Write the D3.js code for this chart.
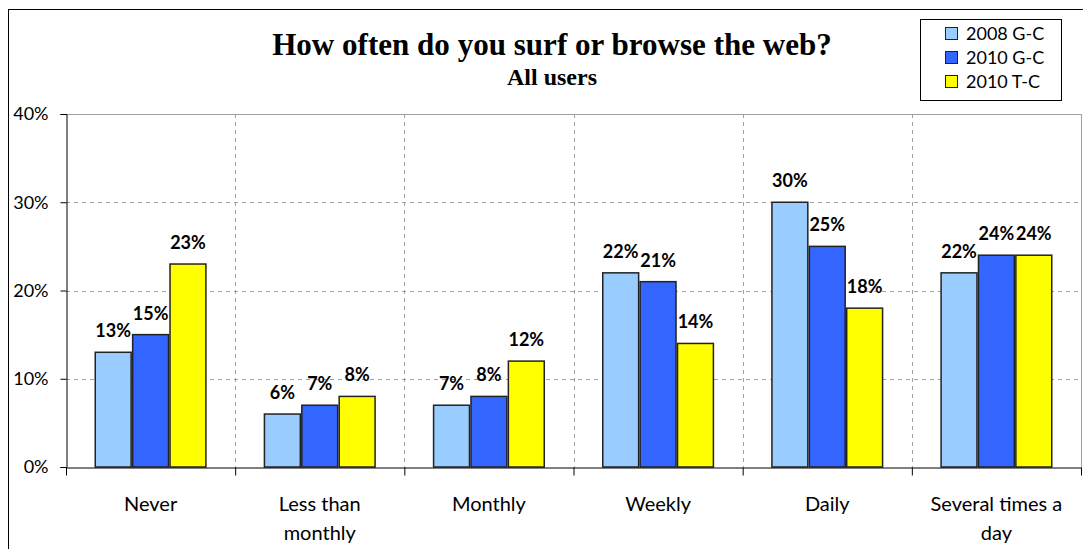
<!DOCTYPE html>
<html>
<head>
<meta charset="utf-8">
<script src="https://cdn.jsdelivr.net/npm/d3@7"></script>
<style>
  html, body { margin: 0; padding: 0; background: #fff; }
  svg { display: block; }
</style>
</head>
<body>
<svg id="chart" width="1083" height="549"></svg>
<script>
const categories = ["Never", "Less than monthly", "Monthly", "Weekly", "Daily", "Several times a day"];
const categoryLines = [["Never"], ["Less than", "monthly"], ["Monthly"], ["Weekly"], ["Daily"], ["Several times a", "day"]];
const seriesNames = ["2008 G-C", "2010 G-C", "2010 T-C"];
const series2008GC = [13, 6, 7, 22, 30, 22];
const series2010GC = [15, 7, 8, 21, 25, 24];
const series2010TC = [23, 8, 12, 14, 18, 24];
const yTicks = [0, 10, 20, 30, 40];
const colors = ["#99CCFF", "#3366FF", "#FFFF00"];
const titleText = "How often do you surf or browse the web?";
const subtitleText = "All users";

const seriesValues = [series2008GC, series2010GC, series2010TC];
const svg = d3.select("#chart");
const labelFont = "Lato, 'Liberation Sans', sans-serif";

const plot = { left: 66, right: 1081, top: 114, bottom: 467 };

// outer frame
svg.append("rect").attr("x", 8.5).attr("y", 9.5).attr("width", 1083).attr("height", 560)
  .attr("fill", "none").attr("stroke", "#000").attr("stroke-width", 1);

const x0 = d3.scaleBand().domain(categories).range([plot.left, plot.right])
  .paddingInner(0.337).paddingOuter(0.337 / 2);
const x1 = d3.scaleBand().domain(seriesNames).range([0, x0.bandwidth()]).padding(0);
const y = d3.scaleLinear().domain([0, 40]).range([plot.bottom, plot.top]);

// horizontal grid lines
svg.append("g").selectAll("line").data(yTicks.filter(t => t > 0 && t < 40)).join("line")
  .attr("x1", plot.left).attr("x2", plot.right)
  .attr("y1", d => Math.round(y(d)) + 0.5).attr("y2", d => Math.round(y(d)) + 0.5)
  .attr("stroke", "#a0a0a0").attr("stroke-dasharray", "4,4");

// vertical grid lines at category boundaries
const step = x0.step();
const boundaries = d3.range(1, categories.length).map(i => plot.left + i * step);
svg.append("g").selectAll("line").data(boundaries).join("line")
  .attr("x1", d => Math.round(d) + 0.5).attr("x2", d => Math.round(d) + 0.5)
  .attr("y1", plot.top).attr("y2", plot.bottom)
  .attr("stroke", "#a0a0a0").attr("stroke-dasharray", "4,4");

// plot area top and right border
svg.append("path")
  .attr("d", `M${plot.left},${Math.round(plot.top) + 0.5}H${plot.right + 0.5}V${plot.bottom}`)
  .attr("fill", "none").attr("stroke", "#a0a0a0").attr("stroke-width", 1);

// bars
const groups = svg.append("g").selectAll("g").data(categories).join("g")
  .attr("transform", d => `translate(${x0(d)},0)`);
groups.selectAll("rect").data((d, i) => seriesNames.map((s, j) => ({ s, j, v: seriesValues[j][i] })))
  .join("rect")
  .attr("x", d => x1(d.s) + 0.75)
  .attr("y", d => y(d.v))
  .attr("width", x1.bandwidth() - 1.5)
  .attr("height", d => y(0) - y(d.v))
  .attr("fill", (d) => colors[d.j])
  .attr("stroke", "#222").attr("stroke-width", 1.5);

// value labels
groups.selectAll("text").data((d, i) => seriesNames.map((s, j) => ({ s, j, v: seriesValues[j][i] })))
  .join("text")
  .attr("x", d => x1(d.s) + x1.bandwidth() / 2)
  .attr("y", d => y(d.v) - 15)
  .attr("text-anchor", "middle")
  .attr("font-family", labelFont).attr("font-weight", "bold").attr("font-size", 18)
  .attr("fill", "#000")
  .text(d => d.v + "%");

// y axis
const yAxis = d3.axisLeft(y).tickValues(yTicks).tickFormat(d => d + "%").tickSize(6).tickPadding(12);
const yg = svg.append("g").attr("transform", `translate(${plot.left + 0.5},0)`).call(yAxis);
yg.select(".domain").attr("stroke", "#000");
yg.selectAll(".tick line").attr("stroke", "#000");
yg.selectAll("text").attr("font-family", labelFont).attr("font-size", 18).attr("fill", "#000");

// x axis line and ticks at boundaries
const xAxisScale = d3.scaleLinear().domain([0, categories.length]).range([plot.left, plot.right]);
const xAxis = d3.axisBottom(xAxisScale).tickValues(d3.range(0, categories.length + 1))
  .tickFormat("").tickSize(8).tickSizeOuter(0);
const xg = svg.append("g").attr("transform", `translate(0,${plot.bottom + 0.5})`).call(xAxis);
xg.select(".domain").attr("stroke", "#000");
xg.selectAll(".tick line").attr("stroke", "#000");

// category labels
const catG = svg.append("g").selectAll("text").data(categories).join("text")
  .attr("x", d => x0(d) + x0.bandwidth() / 2)
  .attr("y", 511)
  .attr("text-anchor", "middle")
  .attr("font-family", labelFont).attr("font-size", 20).attr("fill", "#000");
catG.each(function(d, i) {
  const t = d3.select(this);
  categoryLines[i].forEach((line, k) => {
    t.append("tspan").attr("x", x0(d) + x0.bandwidth() / 2).attr("dy", k === 0 ? 0 : 29).text(line);
  });
});

// title
const title = svg.append("text").attr("x", 552).attr("y", 55).attr("text-anchor", "middle")
  .attr("font-family", "'Liberation Serif', 'DejaVu Serif', serif").attr("font-weight", "bold")
  .attr("font-size", 28).attr("fill", "#000").text(titleText);
const tw = title.node().getComputedTextLength();
title.attr("font-size", 28 * 560 / tw);

const sub = svg.append("text").attr("x", 552).attr("y", 85).attr("text-anchor", "middle")
  .attr("font-family", "'Liberation Serif', 'DejaVu Serif', serif").attr("font-weight", "bold")
  .attr("font-size", 19).attr("fill", "#000").text(subtitleText);
const sw = sub.node().getComputedTextLength();
sub.attr("font-size", 19 * 90 / sw);

// legend
const legend = svg.append("g");
legend.append("rect").attr("x", 920.5).attr("y", 19.5).attr("width", 141).attr("height", 81)
  .attr("fill", "#fff").attr("stroke", "#000").attr("stroke-width", 1);
const items = legend.selectAll("g").data(seriesNames).join("g")
  .attr("transform", (d, i) => `translate(0,${34 + i * 24})`);
items.append("rect").attr("x", 945.5).attr("y", -6.5).attr("width", 12).attr("height", 12)
  .attr("fill", (d, i) => colors[i]).attr("stroke", "#222").attr("stroke-width", 1);
items.append("text").attr("x", 966).attr("y", 6)
  .attr("font-family", labelFont).attr("font-size", 18).attr("fill", "#000").text(d => d);
</script>
</body>
</html>
